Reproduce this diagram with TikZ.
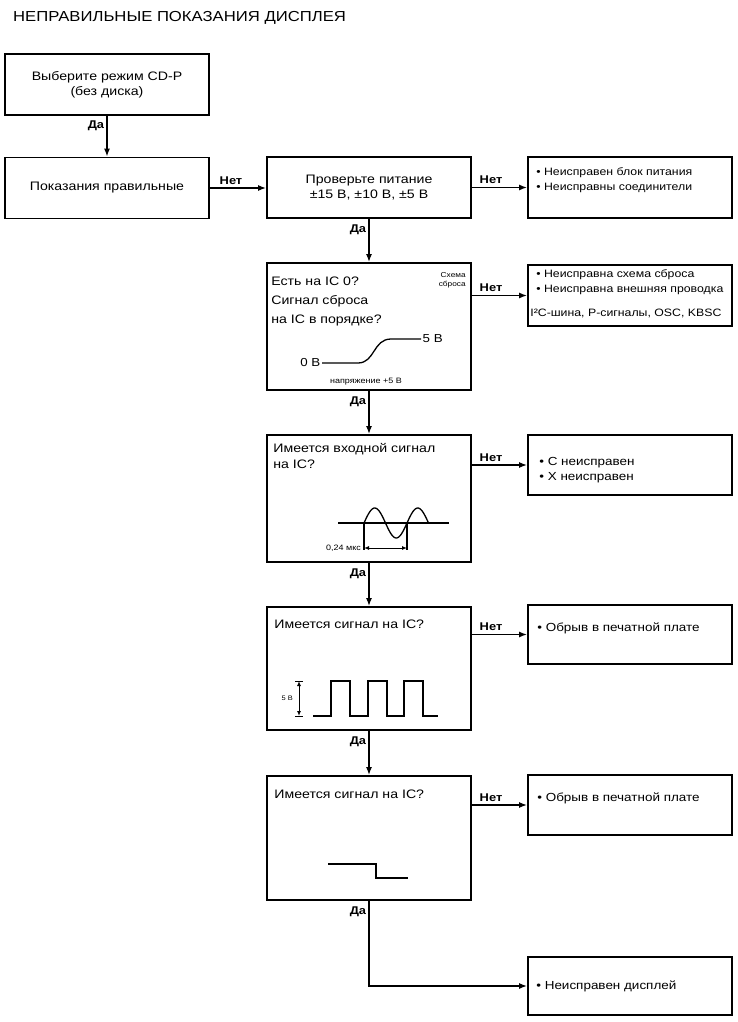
\documentclass[tikz,border=0pt]{standalone}
\usepackage{fontspec}
\setmainfont{Liberation Sans}[FakeStretch=1.15]
\usepackage{tikz}
\usetikzlibrary{arrows.meta,calc,positioning}
\tikzset{%
	block/.style     = {draw, rectangle, line width=1.7pt, minimum width=204pt, minimum height=61pt, inner sep=0pt, text centered, align=center, font=\fontsize{12.3}{15}\selectfont},
	boxtext/.style   = {inner sep=0pt, align=left, font=\fontsize{12.3}{19}\selectfont},
	bullets/.style   = {inner sep=0pt, align=left, font=\fontsize{10.7}{15}\selectfont},
	faults/.style    = {inner sep=0pt, align=left, font=\fontsize{11.7}{15}\selectfont},
	smalltext/.style = {inner sep=1pt, font=\fontsize{7.8}{9}\selectfont},
	yesno/.style     = {inner sep=0pt, font=\bfseries\fontsize{11.2}{13}\selectfont},
	arrow/.style     = {line width=1.7pt, -{Latex[length=8pt,width=6pt]}},
	wave/.style      = {line width=1.3pt},
}
\begin{document}
\begin{tikzpicture}[x=1pt,y=-1pt]
	\useasboundingbox (0,0) rectangle (738,1022);
	\node[anchor=base west, inner sep=0pt, font=\fontsize{14.5}{17}\selectfont] (title) at (13,21.5) {НЕПРАВИЛЬНЫЕ ПОКАЗАНИЯ ДИСПЛЕЯ};
	
	% left column
	\node[block] (b1) at (107,84.5) {Выберите режим CD-P\\(без диска)};
	\node[block] (b2) at (107,188) {Показания правильные};
	
	% middle column
	\node[block] (b3) at (369,187.5) {Проверьте питание\\±15 В, ±10 В, ±5 В};
	\node[block, minimum height=127pt] (b5) at (369,326.5) {};
	\node[block, minimum height=127pt] (b7) at (369,498.5) {};
	\node[block, minimum height=123pt] (b9) at (369,668.5) {};
	\node[block, minimum height=124pt] (b11) at (369,838) {};
	
	% right column
	\node[block] (b4) at (630,187.5) {};
	\node[block] (b6) at (630,295.5) {};
	\node[block, minimum height=60pt] (b8) at (630,465) {};
	\node[block, minimum height=59pt] (b10) at (630,634.5) {};
	\node[block, minimum height=60pt] (b12) at (630,805) {};
	\node[block, minimum height=58pt] (b13) at (630,986) {};
	
	% texts in the boxes
	\node[boxtext, below right=14.6pt and 5pt of b5.north west] (q5) {Есть на IC 0?\\Сигнал сброса\\на IC в порядке?};
	\node[smalltext, inner sep=0pt, align=right, font=\fontsize{7.2}{9}\selectfont, below left=10.5pt and 6pt of b5.north east] (reset) {Схема\\сброса};
	\node[boxtext, font=\fontsize{12.3}{16}\selectfont, below right=8.6pt and 7pt of b7.north west] (q7) {Имеется входной сигнал\\на IC?};
	\node[boxtext, below right=13.6pt and 8pt of b9.north west] (q9) {Имеется сигнал на IC?};
	\node[boxtext, below right=14.6pt and 8pt of b11.north west] (q11) {Имеется сигнал на IC?};
	
	\node[bullets, below right=11pt and 9pt of b4.north west] (f4) {• Неисправен блок питания\\• Неисправны соединители};
	\node[bullets, below right=5.5pt and 9pt of b6.north west] (f6) {• Неисправна схема сброса\\• Неисправна внешняя проводка};
	\node[bullets, below right=45pt and 3pt of b6.north west] (bus) {I²C-шина, P-сигналы, OSC, KBSC};
	\node[faults, below right=22.8pt and 12pt of b8.north west] (f8) {• С неисправен\\• X неисправен};
	\node[faults, below right=18.8pt and 10pt of b10.north west] (f10) {• Обрыв в печатной плате};
	\node[faults, below right=18.8pt and 10pt of b12.north west] (f12) {• Обрыв в печатной плате};
	\node[faults, right=9pt of b13.west] (f13) {• Неисправен дисплей};
	
	% reset voltage
	\node[anchor=east, inner sep=1.5pt, font=\fontsize{11.6}{13}\selectfont] (lo) at (322,363) {0 В};
	\node[anchor=west, inner sep=1.5pt, font=\fontsize{11.6}{13}\selectfont] (hi) at (421,339) {5 В};
	\draw[wave] (lo.east) -- (358,363) .. controls (375,363) and (373,339) .. (391,339) -- (hi.west);
	\node[smalltext] (vcc) at (366,382) {напряжение +5 В};
	
	% input sine
	\draw[wave] (338,523) -- (449,523);
	\draw[wave] plot[domain=364:428.5, samples=60] (\x, {523-15*sin((\x-364)/43*360)});
	\draw[wave] (364,523) -- (364,550) (407,523) -- (407,550);
	\draw[line width=1pt, {Latex[length=5pt,width=4pt]}-{Latex[length=5pt,width=4pt]}] (364,548) -- (407,548);
	\node[smalltext, anchor=east] (period) at (362,548) {0,24 мкс};
	
	% pulses
	\draw[wave] (313,716) foreach \x in {331,368,404} { -- (\x,716) -- (\x,681) -- ({\x+19},681) -- ({\x+19},716) } -- (438,716);
	\draw[line width=1pt] (295,681) -- (303,681) (295,716) -- (303,716);
	\draw[line width=1pt, {Latex[length=5pt,width=4pt]}-{Latex[length=5pt,width=4pt]}] (299,681) -- (299,716);
	\node[smalltext, anchor=east, font=\fontsize{6.5}{8}\selectfont] (amp) at (294,698) {5 В};
	
	% step
	\draw[wave] (328,864) -- (376,864) -- (376,878) -- (408,878);
	
	% connectors
	\draw[arrow] (b1) -- node[pos=0, yesno, anchor=north east, xshift=-2pt, yshift=-4pt] {Да} (b2);
	\draw[arrow] (b2.east) -- node[pos=0, yesno, anchor=south west, xshift=9pt, yshift=3pt] {Нет} (b3.west |- b2.east);
	\draw[arrow] (b3) -- node[pos=0, yesno, anchor=south west, xshift=7pt, yshift=3pt] {Нет} (b4);
	\draw[arrow] (b3) -- node[pos=0, yesno, anchor=north east, xshift=-2pt, yshift=-5pt] {Да} (b5);
	\draw[arrow] (b5.east |- b6.west) -- node[pos=0, yesno, anchor=south west, xshift=7pt, yshift=3pt] {Нет} (b6.west);
	\draw[arrow] (b5) -- node[pos=0, yesno, anchor=north east, xshift=-2pt, yshift=-5pt] {Да} (b7);
	\draw[arrow] (b7.east |- b8.west) -- node[pos=0, yesno, anchor=south west, xshift=7pt, yshift=3pt] {Нет} (b8.west);
	\draw[arrow] (b7) -- node[pos=0, yesno, anchor=north east, xshift=-2pt, yshift=-5pt] {Да} (b9);
	\draw[arrow] (b9.east |- b10.west) -- node[pos=0, yesno, anchor=south west, xshift=7pt, yshift=3pt] {Нет} (b10.west);
	\draw[arrow] (b9) -- node[pos=0, yesno, anchor=north east, xshift=-2pt, yshift=-5pt] {Да} (b11);
	\draw[arrow] (b11.east |- b12.west) -- node[pos=0, yesno, anchor=south west, xshift=7pt, yshift=3pt] {Нет} (b12.west);
	\draw[arrow] (b11.south) |- node[pos=0, yesno, anchor=north east, xshift=-2pt, yshift=-5pt] {Да} (b13.west);
\end{tikzpicture}
\end{document}
